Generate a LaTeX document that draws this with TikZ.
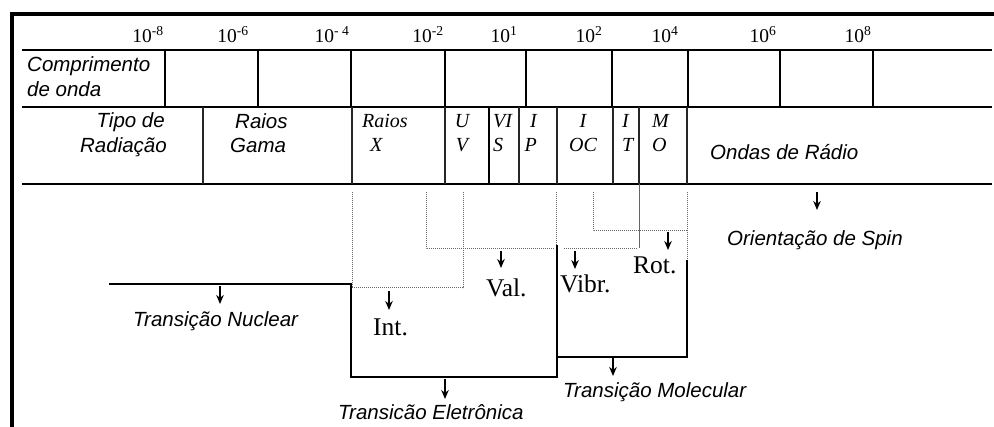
\documentclass[tikz,border=0pt]{standalone}
\usepackage{fontspec}
\setmainfont{Liberation Serif}
\newfontfamily\arialfont{Liberation Sans}
\usetikzlibrary{arrows.meta}

\begin{document}
\begin{tikzpicture}[x=1pt, y=-1pt, >={Stealth[length=9pt,width=7.5pt]},
  sanslbl/.style={font=\fontsize{20.5}{24}\arialfont\itshape, inner sep=0pt},
  serit/.style={font=\fontsize{20}{24}\selectfont\itshape, inner sep=0pt},
  bandlbl/.style={font=\fontsize{25.5}{28}\selectfont, inner sep=0pt},
  explbl/.style={font=\fontsize{19.5}{22}\selectfont, inner sep=0pt},
  rowline/.style={line width=2.5pt},
  cellline/.style={line width=1.3pt, black!85},
  trline/.style={line width=2.4pt},
  dotline/.style={densely dotted, line width=1pt, black!60},
  tickarr/.style={->, line width=1.3pt}]
  \useasboundingbox (0,0) rectangle (994,427);
  % frame, only top and left are visible
  \draw[line width=4pt] (12,430) -- (12,14) -- (997,14);

  % table rows
  \draw[rowline] (22,50) -- (992,50) (22,107) -- (992,107);
  \draw[line width=1.3pt] (22,184) -- (992,184);
  \foreach \x in {165,258,351,445,526,612,688,780,873}
    \draw[rowline] (\x,50) -- (\x,107);
  \foreach \x in {203,352,445,519,557,613,639,687}
    \draw[cellline] (\x,107) -- (\x,184);
  \draw[line width=2pt] (489,107) -- (489,184);
  \draw[line width=1pt, black!60] (639,184) -- (639,248);

  % wavelength scale
  \foreach \x/\e in {148/-8,233/-6,332/- 4,428/-2,504/1,589/2,665/4,763/6,858/8}
    \node[explbl, anchor=base] (e\x) at (\x,43) {10\textsuperscript{\e}};
  \node[sanslbl, anchor=base west] (comp1) at (27,72) {Comprimento};
  \node[sanslbl, anchor=base west] (comp2) at (27,97) {de onda};

  % radiation types
  \node[sanslbl, anchor=base east] (tipo1) at (165,128) {Tipo de};
  \node[sanslbl, anchor=base east] (tipo2) at (167,153) {Radiação};
  \node[sanslbl, anchor=base west] (gama1) at (235,129) {Raios};
  \node[sanslbl, anchor=base west] (gama2) at (230,153) {Gama};
  \node[serit, anchor=base west] (rx1) at (362,128) {Raios};
  \node[serit, anchor=base west] (rx2) at (370,152) {X};
  \foreach \n/\x/\a/\ta/\tb in {uv/462/base/U/V, vis/493/base west/VI/S,
      ip/537/base east/I/P, ioc/583/base/I/OC, it/622/base west/I/T,
      mo/652/base west/M/O}{
    \node[serit, anchor=\a] (\n1) at (\x,128) {\ta};
    \node[serit, anchor=\a] (\n2) at (\x,152) {\tb};
  }
  \node[sanslbl, anchor=base west] (ondas) at (710,160) {Ondas de Rádio};

  % dotted brackets below the bands
  \draw[dotline] (352,192) -- (352,288) -- (463,288) -- (463,192);
  \draw[dotline] (426,192) -- (426,249) -- (555,249) (556,192) -- (556,245);
  \draw[dotline] (564,249) -- (638,249);
  \draw[dotline] (593,192) -- (593,231) -- (687,231) (687,192) -- (687,259);

  % transitions
  \draw[trline] (109,284) -- (351,284) -- (351,377) -- (557,377) -- (557,245);
  \draw[trline] (557,357) -- (687,357) -- (687,260);

  \foreach \n/\x/\ya/\yb in {nuc/220/286/304, int/389/291/310, val/501/251/268,
      vib/575/251/269, rot/668/232/250, ele/445/379/399, mol/613/358/376,
      spin/817/192/210}{
    \coordinate (\n0) at (\x,\ya);
    \coordinate (\n1) at (\x,\yb);
    \draw[tickarr] (\n0) -- (\n1);
  }

  \node[sanslbl, anchor=base west] (tNuc) at (133,327) {Transição Nuclear};
  \node[sanslbl, anchor=base west] (tEle) at (338,420) {Transicão Eletrônica};
  \node[sanslbl, anchor=base west] (tMol) at (563,398) {Transição Molecular};
  \node[sanslbl, anchor=base west] (tSpin) at (727,246) {Orientação de Spin};
  \node[bandlbl, anchor=base west] (lInt) at (373,336) {Int.};
  \node[bandlbl, anchor=base west] (lVal) at (486,297) {Val.};
  \node[bandlbl, anchor=base west] (lVib) at (560,293) {Vibr.};
  \node[bandlbl, anchor=base west] (lRot) at (633,274) {Rot.};
\end{tikzpicture}
\end{document}
